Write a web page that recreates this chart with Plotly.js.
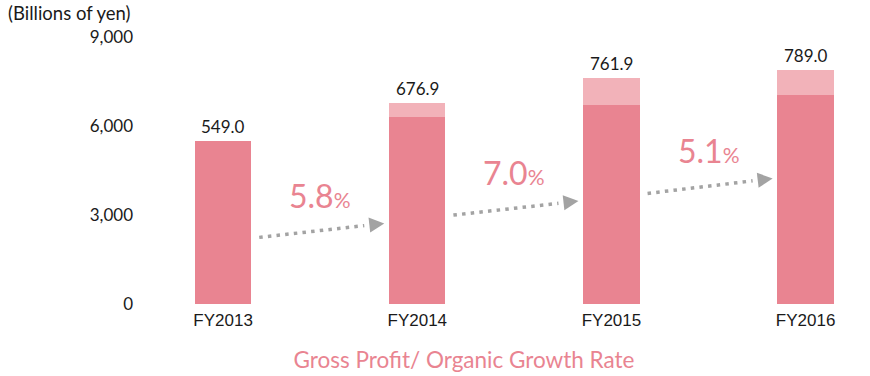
<!DOCTYPE html>
<html>
<head>
<meta charset="utf-8">
<script src="https://cdn.plot.ly/plotly-3.0.1.min.js"></script>
<style>html,body{margin:0;padding:0;background:#fff;}#chart{width:870px;height:376px;}</style>
</head>
<body>
<div id="chart"></div>
<script>
// ---- data ----
var years = ["FY2013", "FY2014", "FY2015", "FY2016"];
var grossProfitLabels = ["549.0", "676.9", "761.9", "789.0"];
var grossProfit = [5490, 6769, 7619, 7890];          // bar totals (axis scale)
var organicBase = [5490, 6310, 6700, 7040];          // darker lower part
var growthRates = ["5.8", "7.0", "5.1"];
var yTickVals = [0, 3000, 6000, 9000];
var yTickText = ["0", "3,000", "6,000", "9,000"];

var extraPart = grossProfit.map(function (v, i) { return v - organicBase[i]; });

var DARK = "#e98491";
var LIGHT = "#f2b2b9";
var GRAY = "#a3a3a3";
var FONT = "Lato, 'Noto Sans', sans-serif";

var traces = [
  {
    type: "bar", x: years, y: organicBase, width: 0.29,
    marker: { color: DARK, line: { width: 0 } }, hoverinfo: "skip"
  },
  {
    type: "bar", x: years, y: extraPart, width: 0.29,
    marker: { color: LIGHT, line: { width: 0 } }, hoverinfo: "skip"
  }
];

var annotations = [];
var shapes = [];

// value labels above bars
years.forEach(function (yr, i) {
  annotations.push({
    x: i, y: grossProfit[i], xref: "x", yref: "y",
    text: grossProfitLabels[i], showarrow: false,
    yanchor: "bottom", yshift: 2,
    font: { family: FONT, size: 17, color: "#1a1a1a" }
  });
});

// growth arrows between bars (geometry relative to category slots)
var arrowStartY = [2246, 2997, 3727];
var arrowTipY = [2717, 3468, 4232];
growthRates.forEach(function (g, i) {
  var x0 = i + 0.186, xTip = i + 0.83, xEnd = i + 0.757;
  var y0 = arrowStartY[i], yTip = arrowTipY[i];
  var yEnd = y0 + (yTip - y0) * (xEnd - x0) / (xTip - x0);
  shapes.push({
    type: "line", xref: "x", yref: "y",
    x0: x0, y0: y0, x1: xEnd - 0.03, y1: y0 + (yTip - y0) * (xEnd - 0.03 - x0) / (xTip - x0),
    line: { color: GRAY, width: 3.5, dash: "3.5px,5.2px" }
  });
  annotations.push({
    x: xTip, y: yTip, xref: "x", yref: "y",
    ax: xEnd, ay: yEnd, axref: "x", ayref: "y",
    text: "", showarrow: true, arrowhead: 2, arrowsize: 1.5, arrowwidth: 2,
    arrowcolor: GRAY, standoff: 0
  });
  annotations.push({
    x: i + 0.5, y: (y0 + yTip) / 2 + 1190, xref: "x", yref: "y",
    text: g + "<span style='font-size:21px'>%</span>", showarrow: false,
    xanchor: "center", yanchor: "middle",
    font: { family: FONT, size: 32, color: DARK }
  });
});

// unit label (paper coords relative to plot area: l=140, w=720, bottom=304, h=267)
annotations.push({
  x: (6 - 140) / 720, y: (304 - 13) / 267, xref: "paper", yref: "paper",
  xanchor: "left", yanchor: "middle", showarrow: false,
  text: "(Billions of yen)",
  font: { family: FONT, size: 18.5, color: "#1a1a1a" }
});

var layout = {
  width: 870, height: 376,
  margin: { l: 140, r: 10, t: 37, b: 72 },
  paper_bgcolor: "#ffffff", plot_bgcolor: "#ffffff",
  barmode: "stack",
  showlegend: false,
  title: {
    text: "Gross Profit/ Organic Growth Rate",
    x: 464 / 870, xref: "container", xanchor: "center",
    y: 1 - 360 / 376, yref: "container", yanchor: "middle",
    font: { family: FONT, size: 22.5, color: DARK }
  },
  xaxis: {
    type: "category", range: [-0.428, 3.28],
    showgrid: false, zeroline: false, showline: false, ticks: "",
    ticklabelstandoff: 4,
    tickfont: { family: "'Liberation Sans', Arial, sans-serif", size: 17, color: "#1a1a1a" },
    fixedrange: true
  },
  yaxis: {
    range: [0, 9000], tickvals: yTickVals, ticktext: yTickText,
    showgrid: false, zeroline: false, showline: false, ticks: "",
    ticklabelstandoff: 6,
    tickfont: { family: FONT, size: 17, color: "#1a1a1a" },
    fixedrange: true
  },
  annotations: annotations,
  shapes: shapes
};

Plotly.newPlot("chart", traces, layout, { displayModeBar: false, staticPlot: true });
</script>
</body>
</html>
